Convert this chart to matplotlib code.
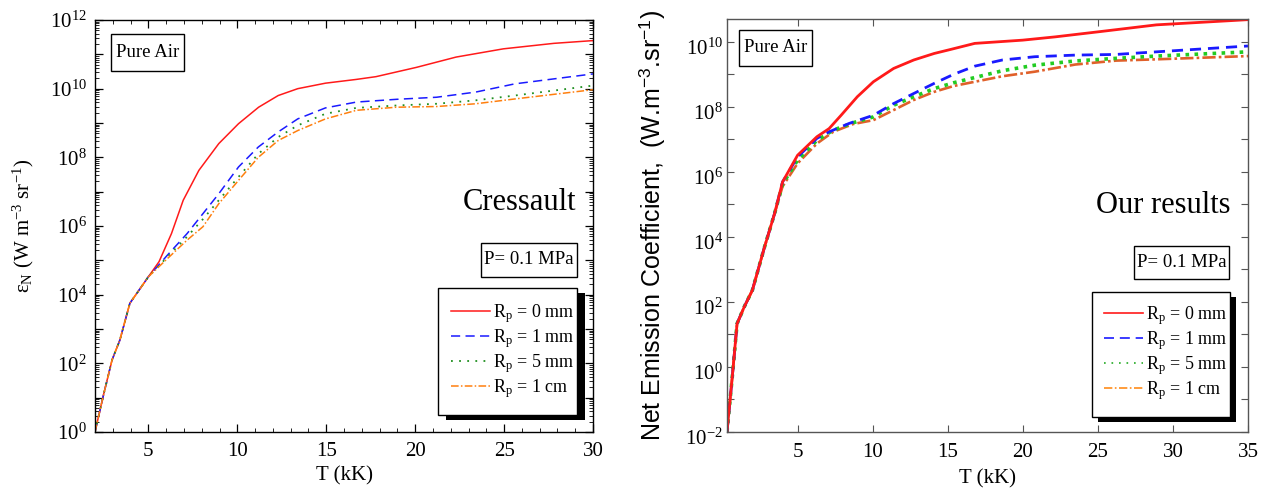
import numpy as np
import matplotlib
matplotlib.use("Agg")
import matplotlib.pyplot as plt
from matplotlib.lines import Line2D
from matplotlib.patches import Rectangle
from matplotlib.transforms import ScaledTranslation
from matplotlib.ticker import FixedLocator, LogLocator, NullFormatter, MultipleLocator

plt.rcParams['font.family'] = ['Liberation Serif', 'DejaVu Serif']
plt.rcParams['mathtext.fontset'] = 'custom'
plt.rcParams['mathtext.rm'] = 'Liberation Serif'
plt.rcParams['mathtext.it'] = 'Liberation Serif:italic'
plt.rcParams['mathtext.bf'] = 'Liberation Serif:bold'
plt.rcParams['mathtext.sf'] = 'Liberation Sans'

# ---------------- data: left panel (Cressault) ----------------
T_L_red = [2, 2.5, 2.96, 3.4, 3.96, 5.0, 5.6, 6.3, 6.96, 7.84, 8.96, 10.07, 11.2, 12.3,
           13.4, 14.96, 16.7, 17.8, 20.07, 22.3, 24.96, 27.8, 30]
logE_L_red = [0, 1.13, 2.1, 2.68, 3.75, 4.52, 4.96, 5.78, 6.75, 7.62, 8.4, 8.98, 9.46, 9.8,
              10.0, 10.16, 10.27, 10.35, 10.62, 10.92, 11.16, 11.32, 11.4]
T_L = [2, 2.5, 2.96, 3.4, 3.96, 5.0, 6.07, 7.18, 8.07, 8.96, 10.07, 11.18, 12.3, 13.4,
       14.96, 16.7, 18.96, 21.2, 23.4, 25.6, 30]
logE_L_blue = [0, 1.13, 2.1, 2.68, 3.75, 4.52, 5.15, 5.78, 6.36, 6.94, 7.72, 8.3, 8.74, 9.12,
               9.44, 9.61, 9.69, 9.75, 9.9, 10.14, 10.43]
logE_L_green = [0, 1.13, 2.1, 2.68, 3.75, 4.52, 5.1, 5.69, 6.2, 6.75, 7.43, 8.1, 8.59, 8.93,
                9.27, 9.44, 9.51, 9.56, 9.66, 9.8, 10.09]
logE_L_orange = [0, 1.13, 2.1, 2.68, 3.75, 4.52, 5.05, 5.59, 5.98, 6.65, 7.33, 8.0, 8.49, 8.78,
                 9.12, 9.37, 9.46, 9.48, 9.56, 9.7, 9.97]

# ---------------- data: right panel (Our results) ----------------
T_R_red = [0.3, 0.65, 0.97, 1.45, 1.99, 2.8, 3.47, 4.0, 5.0, 6.29, 7.1, 7.9, 8.98, 10.05,
           11.4, 12.74, 14.1, 15.16, 16.8, 20.0, 22.15, 25.1, 28.9, 35]
logE_R_red = [-2, -0.31, 1.33, 1.85, 2.36, 3.69, 4.72, 5.69, 6.51, 7.08, 7.33, 7.74, 8.31, 8.77,
              9.18, 9.44, 9.64, 9.76, 9.95, 10.05, 10.15, 10.31, 10.52, 10.68]
T_R_blue = [0.3, 0.65, 0.97, 1.45, 1.99, 2.8, 3.47, 4.0, 5.0, 6.29, 7.1, 8.44, 10.05, 11.4,
            12.74, 14.1, 15.4, 16.8, 18.65, 20.8, 23.5, 26.2, 28.9, 35]
logE_R_blue = [-2, -0.31, 1.33, 1.85, 2.36, 3.69, 4.72, 5.69, 6.46, 7.03, 7.23, 7.49, 7.74, 8.1,
               8.41, 8.72, 9.0, 9.25, 9.44, 9.54, 9.59, 9.61, 9.69, 9.87]
T_R = [0.3, 0.65, 0.97, 1.45, 1.99, 2.8, 3.47, 4.0, 5.0, 6.29, 7.37, 8.7, 10.05, 11.4,
       12.74, 14.1, 15.4, 16.8, 18.65, 20.8, 23.5, 26.2, 28.9, 35]
logE_R_green = [-2, -0.31, 1.33, 1.85, 2.36, 3.69, 4.72, 5.62, 6.36, 6.97, 7.28, 7.51, 7.69, 8.05,
                8.31, 8.56, 8.74, 8.9, 9.11, 9.28, 9.41, 9.49, 9.56, 9.69]
logE_R_orange = [-2, -0.31, 1.33, 1.85, 2.36, 3.69, 4.72, 5.55, 6.26, 6.87, 7.23, 7.47, 7.59, 7.9,
                 8.21, 8.46, 8.64, 8.77, 8.94, 9.08, 9.3, 9.42, 9.46, 9.56]

legend_labels = ["R$_\\mathrm{p}$ = 0 mm", "R$_\\mathrm{p}$ = 1 mm",
                 "R$_\\mathrm{p}$ = 5 mm", "R$_\\mathrm{p}$ = 1 cm"]
xticks_L = [5, 10, 15, 20, 25, 30]
xticks_R = [5, 10, 15, 20, 25, 30, 35]
ylabel_exp_L = [0, 2, 4, 6, 8, 10, 12]
ylabel_exp_R = [-2, 0, 2, 4, 6, 8, 10]


def E(logs):
    return 10.0 ** np.asarray(logs)


W, H = 1264, 491
fig = plt.figure(figsize=(W / 100, H / 100), dpi=100)


def fx(x):
    return x / W


def fy(y):
    return 1 - y / H


axL = fig.add_axes([fx(95), fy(432), (593 - 95) / W, (432 - 20) / H])
axR = fig.add_axes([fx(727), fy(432), (1248 - 727) / W, (432 - 19) / H])


def box(x0, y0, x1, y1, z=2):
    fig.add_artist(Rectangle((fx(x0), fy(y1)), fx(x1) - fx(x0), fy(y0) - fy(y1),
                             transform=fig.transFigure, facecolor='white',
                             edgecolor='black', linewidth=1.0, zorder=z))


def shadow(x0, y0, x1, y1, dx, dy):
    fig.add_artist(Rectangle((fx(x0 + dx), fy(y1 + dy)), fx(x1) - fx(x0), fy(y0) - fy(y1),
                             transform=fig.transFigure, facecolor='black',
                             edgecolor='none', zorder=1.5))


# ---------- left panel ----------
lsL = [dict(color='#ff1a1a', ls='-', lw=1.1),
       dict(color='#1a1aff', ls=(0, (6, 3.5)), lw=1.1),
       dict(color='#1f8f1f', ls=(0, (1, 3.5)), lw=1.3),
       dict(color='#ff7f0e', ls=(0, (5, 1.5, 1, 1.5)), lw=1.1)]
axL.plot(T_L_red, E(logE_L_red), **lsL[0])
axL.plot(T_L, E(logE_L_blue), **lsL[1])
axL.plot(T_L, E(logE_L_green), **lsL[2])
axL.plot(T_L, E(logE_L_orange), **lsL[3])
axL.set_yscale('log')
axL.set_xlim(2, 30)
axL.set_ylim(1, 1e12)
axL.set_xticks(xticks_L)
axL.xaxis.set_minor_locator(MultipleLocator(1))
axL.set_yticks([10.0 ** k for k in range(0, 13)])
axL.set_yticklabels(['$\\mathdefault{10^{%d}}$' % k if k in ylabel_exp_L else '' for k in range(0, 13)])
axL.yaxis.set_minor_locator(LogLocator(base=10, subs=np.arange(2, 10), numticks=30))
axL.yaxis.set_minor_formatter(NullFormatter())
axL.tick_params(which='both', direction='in', top=True, right=True, labelsize=15, colors='black')
axL.tick_params(which='major', length=6, width=0.9)
axL.tick_params(which='minor', length=3, width=0.6)
axL.tick_params(axis='x', pad=7)
axL.tick_params(axis='y', pad=6)
for sp in axL.spines.values():
    sp.set_linewidth(1.0)
axL.set_xlabel('T (kK)', fontsize=15)
axL.xaxis.set_label_coords(0.5, -0.082)
axL.xaxis.label.set_va('top')
axL.set_ylabel('ε$_\\mathrm{N}$ (W m$^{-3}$ sr$^{-1}$)', fontsize=15)
axL.yaxis.set_label_coords(-0.118, 0.5)

# ---------- right panel ----------
lsR = [dict(color='#ff1a1a', ls='-', lw=2.0),
       dict(color='#1a1aff', ls=(0, (4, 2.5)), lw=2.0),
       dict(color='#22cc22', ls=(0, (1, 1.5)), lw=2.6),
       dict(color='#e0602a', ls=(0, (5, 1.2, 1, 1.2)), lw=1.9)]
axR.plot(T_R, E(logE_R_orange), **lsR[3])
axR.plot(T_R, E(logE_R_green), **lsR[2])
axR.plot(T_R_blue, E(logE_R_blue), **lsR[1])
axR.plot(T_R_red, E(logE_R_red), **lsR[0])
axR.set_yscale('log')
axR.set_xlim(0.3, 35)
axR.set_ylim(1e-2, 10 ** 10.7)
axR.set_xticks(xticks_R)
axR.set_yticks([10.0 ** k for k in range(-2, 11)])
axR.set_yticklabels(['$\\mathdefault{10^{%d}}$' % k if k in ylabel_exp_R else '' for k in range(-2, 11)])
axR.yaxis.set_minor_locator(FixedLocator([]))
axR.tick_params(which='both', direction='in', top=True, right=True, labelsize=15,
                color='#555555', labelcolor='black')
axR.tick_params(which='major', length=5, width=0.8)
axR.tick_params(axis='x', pad=8)
axR.tick_params(axis='y', pad=3)
shift = ScaledTranslation(0, -5 / 100, fig.dpi_scale_trans)
for lab in axR.get_yticklabels():
    lab.set_transform(lab.get_transform() + shift)
for sp in axR.spines.values():
    sp.set_linewidth(1.0)
    sp.set_color('#555555')
axR.set_xlabel('T (kK)', fontsize=15)
axR.xaxis.set_label_coords(0.5, -0.09)
axR.xaxis.label.set_va('top')
axR.set_ylabel('Net Emission Coefficient,  (W.m$^{\\mathsf{-3}}$.sr$^{\\mathsf{-1}}$)',
               fontsize=18, family=['Liberation Sans', 'DejaVu Sans'])
axR.yaxis.set_label_coords(-0.115, 0.5)

# ---------- annotation boxes and titles ----------
box(111, 34, 184, 71)
fig.text(fx(147.5), fy(52.5), 'Pure Air', fontsize=13.5, ha='center', va='center', zorder=3)
box(481, 243, 577, 277)
fig.text(fx(529), fy(260), 'P= 0.1 MPa', fontsize=13.5, ha='center', va='center', zorder=3)
fig.text(fx(519.5), fy(202), 'Cressault', fontsize=22, ha='center', va='center', zorder=3)

box(739, 30, 812, 66)
fig.text(fx(775.5), fy(48), 'Pure Air', fontsize=13.5, ha='center', va='center', zorder=3)
box(1134, 246, 1229, 279)
fig.text(fx(1181.5), fy(262.5), 'P= 0.1 MPa', fontsize=13.5, ha='center', va='center', zorder=3)
fig.text(fx(1163.5), fy(205), 'Our results', fontsize=22, ha='center', va='center', zorder=3)

# ---------- legends with drop shadows ----------
shadow(438, 288, 577, 415, 8, 5)
box(438, 288, 577, 415)
hL = [Line2D([], [], **d) for d in lsL]
fig.legend(hL, legend_labels, loc='center left', bbox_to_anchor=(fx(451), fy(351)),
           fontsize=13, frameon=False, handlelength=2.15, handletextpad=0.15,
           labelspacing=0.13, borderpad=0, borderaxespad=0).set_zorder(5)

shadow(1092, 292, 1230, 417, 6, 5)
box(1092, 292, 1230, 417)
hR = [Line2D([], [], color=c, ls=ls, lw=1.2)
      for c, ls in zip(['#ff1a1a', '#1a1aff', '#22aa22', '#ff8c1a'],
                       ['-', (0, (6, 3.5)), (0, (1, 3.5)), (0, (5, 1.5, 1, 1.5))])]
fig.legend(hR, legend_labels, loc='center left', bbox_to_anchor=(fx(1104), fy(353)),
           fontsize=13, frameon=False, handlelength=2.15, handletextpad=0.15,
           labelspacing=0.13, borderpad=0, borderaxespad=0).set_zorder(5)

fig.savefig('out.png', dpi=100)
